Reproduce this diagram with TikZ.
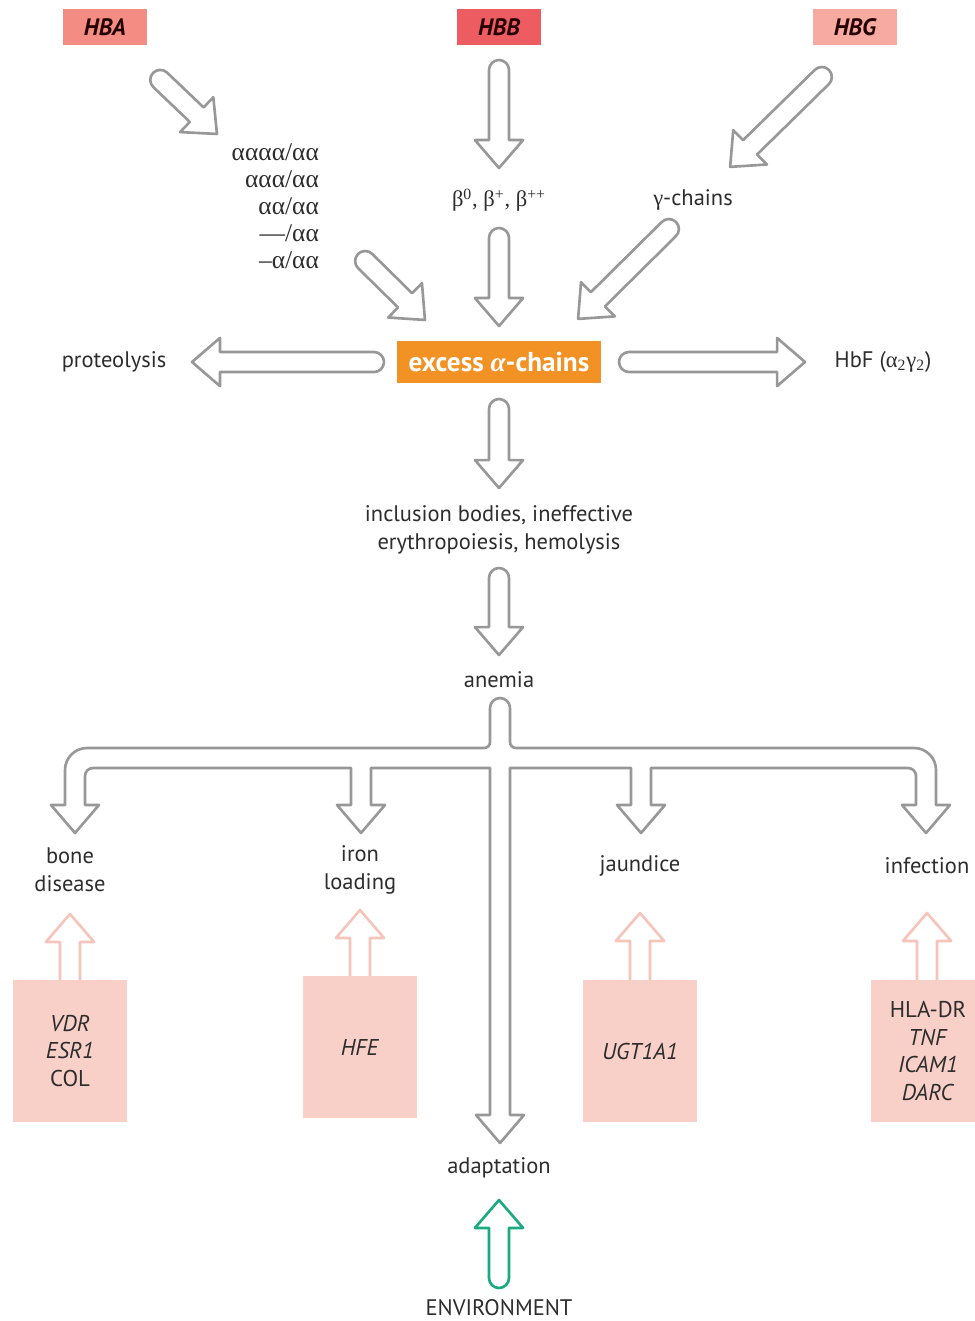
\documentclass[tikz,border=0pt]{standalone}
\definecolor{thal_grey}{RGB}{152, 152, 152}
\definecolor{thal_text}{RGB}{45, 45, 45}
\definecolor{thal_hba}{RGB}{243, 140, 130}
\definecolor{thal_hbb}{RGB}{236, 92, 96}
\definecolor{thal_hbg}{RGB}{246, 170, 160}
\definecolor{thal_orange}{RGB}{243, 146, 36}
\definecolor{thal_pink}{RGB}{249, 208, 200}
\definecolor{thal_pinkline}{RGB}{245, 196, 186}
\definecolor{thal_green}{RGB}{26, 170, 130}
\usepackage{fontspec}
\setmainfont{PT Sans}
\newfontfamily\greekfont{Liberation Serif}
\usepackage{tikz}
\usetikzlibrary{calc}

\newcommand{\gk}[1]{{\greekfont #1}}

% hollow block arrow, rounded tail at #2, tip at #3
\newcommand{\fatarrow}[3][]{%
  \path let \p1=#2, \p2=#3,
      \n1={atan2(\y2-\y1,\x2-\x1)}, \n2={veclen(\x2-\x1,\y2-\y1)} in
      \pgfextra{\xdef\faang{\n1}\xdef\falen{\n2}\xdef\fax{\x1}\xdef\fay{\y1}};
  \draw[block arrow, #1, shift={(\fax,\fay)}, rotate=\faang]
    (\falen-15.9pt,5.7pt) -- (5.7pt,5.7pt)
    arc[start angle=90, end angle=270, radius=5.7pt]
    -- (\falen-15.9pt,-5.7pt) -- (\falen-15.9pt,-13.7pt)
    -- (\falen,0pt) -- (\falen-15.9pt,13.7pt) -- cycle;
}

\begin{document}
\begin{tikzpicture}[x=0.02cm, y=-0.02cm,
    lbl/.style={text=thal_text, font=\fontsize{12.8}{16}\selectfont, inner sep=1pt},
    gene/.style={minimum width=1.68cm, minimum height=0.72cm, inner sep=0pt,
                 text=black!85!red, font=\fontsize{13.5}{14}\selectfont\bfseries\itshape},
    modbox/.style={fill=thal_pink, minimum width=2.28cm, minimum height=2.86cm,
                   inner sep=0pt, align=center, text=thal_text,
                   font=\fontsize{13}{15.6}\selectfont},
    block arrow/.style={draw=thal_grey, fill=white, line width=1.5pt, line join=round},
    pink arrow/.style={draw=thal_pinkline},
    green arrow/.style={draw=thal_green}]
  \useasboundingbox[fill=white] (0,0) rectangle (974,1321);

  % genes on top
  \node[gene, fill=thal_hba] (hba) at (105,27) {HBA};
  \node[gene, fill=thal_hbb] (hbb) at (499,27) {HBB};
  \node[gene, fill=thal_hbg] (hbg) at (855,27) {HBG};

  \node[lbl, anchor=east, align=right, font=\greekfont\fontsize{14.5}{15.4}\selectfont]
    (alpha) at (321,206) {αααα/αα\\ααα/αα\\αα/αα\\—/αα\\–α/αα};
  \node[lbl, font=\greekfont\fontsize{12.8}{15}\selectfont] (beta) at (499,200)
    {β\textsuperscript{0}, β\textsuperscript{+}, β\textsuperscript{++}};
  \node[lbl] (gamma) at (693,200) {\gk{γ}-chains};

  \node[fill=thal_orange, text=white, minimum width=4.1cm, minimum height=0.84cm,
        font=\fontsize{15.5}{16}\selectfont\bfseries] (excess) at (499,362)
    {excess \gk{\itshape α}-chains};
  \node[lbl] (prot) at (114,362) {proteolysis};
  \node[lbl] (hbf) at (883,362) {HbF (\gk{α\textsubscript{2}γ\textsubscript{2}})};

  \node[lbl, align=center] (incl) at (499,530) {inclusion bodies, ineffective\\erythropoiesis, hemolysis};
  \node[lbl] (anemia) at (499,680) {anemia};

  \node[lbl, align=center] (bone) at (70,870) {bone\\disease};
  \node[lbl, align=center] (iron) at (360,870) {iron\\loading};
  \node[lbl] (jaund) at (640,866) {jaundice};
  \node[lbl] (infect) at (927,866) {infection};
  \node[lbl] (adapt) at (499,1168) {adaptation};
  \node[lbl] (env) at (499,1308) {ENVIRONMENT};

  % arrows into the excess chains
  \fatarrow{($(hba)+(48,46)$)}{($(alpha.east)+(-104,-72)$)}
  \fatarrow{($(hbb)+(0,33)$)}{($(beta)+(0,-32)$)}
  \fatarrow{($(hbg)+(-26,43)$)}{($(gamma)+(37,-33)$)}
  \fatarrow{($(alpha.east)+(37,48)$)}{($(excess)+(-74,-42)$)}
  \fatarrow{($(beta)+(0,28)$)}{($(excess)+(0,-36)$)}
  \fatarrow{($(gamma)+(-17,22)$)}{($(excess)+(79,-43)$)}

  % and out of them
  \fatarrow{($(excess)+(-115,0)$)}{($(prot)+(78,0)$)}
  \fatarrow{($(excess)+(120,0)$)}{($(hbf)+(-78,0)$)}
  \fatarrow{($(excess)+(0,37)$)}{($(incl)+(0,-42)$)}
  \fatarrow{($(incl)+(0,38)$)}{($(anemia)+(0,-25)$)}

  % branching arrow below anemia
  \draw[block arrow]
    (490,708) arc[start angle=180, end angle=360, radius=10]
    -- (510,742) arc[start angle=180, end angle=90, radius=6]
    -- (914,748) arc[start angle=270, end angle=360, radius=22]
    -- (936,805) -- (950,805) -- (926,833) -- (902,805) -- (916,805)
    -- (916,776) arc[start angle=0, end angle=-90, radius=8]
    -- (651,768) -- (651,805) -- (665,805) -- (641,833) -- (617,805) -- (631,805) -- (631,768)
    -- (510,768) -- (510,1115) -- (524,1115) -- (500,1143) -- (476,1115) -- (490,1115) -- (490,768)
    -- (371,768) -- (371,805) -- (385,805) -- (361,833) -- (337,805) -- (351,805) -- (351,768)
    -- (93,768) arc[start angle=270, end angle=180, radius=8]
    -- (85,805) -- (99,805) -- (75,833) -- (51,805) -- (65,805)
    -- (65,770) arc[start angle=180, end angle=270, radius=22]
    -- (484,748) arc[start angle=90, end angle=0, radius=6]
    -- cycle;

  % modifier genes
  \fatarrow[pink arrow]{(70,1000)}{($(bone)+(0,44)$)}
  \fatarrow[pink arrow]{(360,996)}{($(iron)+(0,40)$)}
  \fatarrow[pink arrow]{(640,999)}{($(jaund)+(0,47)$)}
  \fatarrow[pink arrow]{(927,999)}{($(infect)+(0,47)$)}
  \node[modbox] (vdr) at (70,1051) {\textit{VDR}\\\textit{ESR1}\\COL};
  \node[modbox] (hfe) at (360,1047) {\textit{HFE}};
  \node[modbox] (ugt) at (640,1051) {\textit{UGT1A1}};
  \node[modbox] (hla) at (928,1051) {HLA-DR\\\textit{TNF}\\\textit{ICAM1}\\\textit{DARC}};

  \fatarrow[green arrow]{($(env)+(0,-20)$)}{($(adapt)+(0,32)$)}
\end{tikzpicture}
\end{document}
